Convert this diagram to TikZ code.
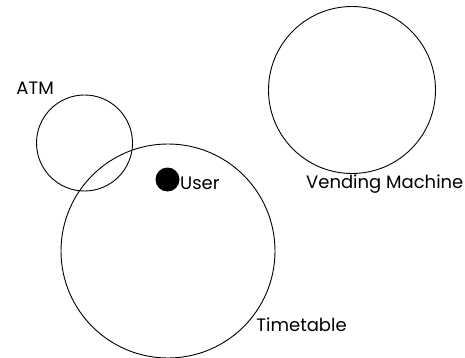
\documentclass[tikz,border=0pt]{standalone}
\usepackage{fontspec}
\setmainfont{Poppins}
\begin{document}
\begin{tikzpicture}[x=1pt,y=-1pt,
  ring/.style={circle,draw,line width=0.9pt,inner sep=0pt},
  dot/.style={circle,fill=black,inner sep=0pt,minimum size=24pt},
  lbl/.style={anchor=base west,inner sep=0pt,font=\fontsize{18}{18}\selectfont}]
\useasboundingbox (0,0) rectangle (465,358);
% sets
\node[ring,minimum size=96pt]  (atm)   at (84.5,143) {};
\node[ring,minimum size=214pt] (timet) at (168,251) {};
\node[ring,minimum size=167pt] (vend)  at (352,90) {};
% element
\node[dot] (user) at (167.5,179.5) {};
% labels
\node[lbl] (atmlbl)   at (16.2,95)   {ATM};
\node[lbl] (userlbl)  at (180,189.5) {User};
\node[lbl] (vendlbl)  at (306,188.3) {Vending Machine};
\node[lbl] (timetlbl) at (256.2,331) {Timetable};
\end{tikzpicture}
\end{document}
